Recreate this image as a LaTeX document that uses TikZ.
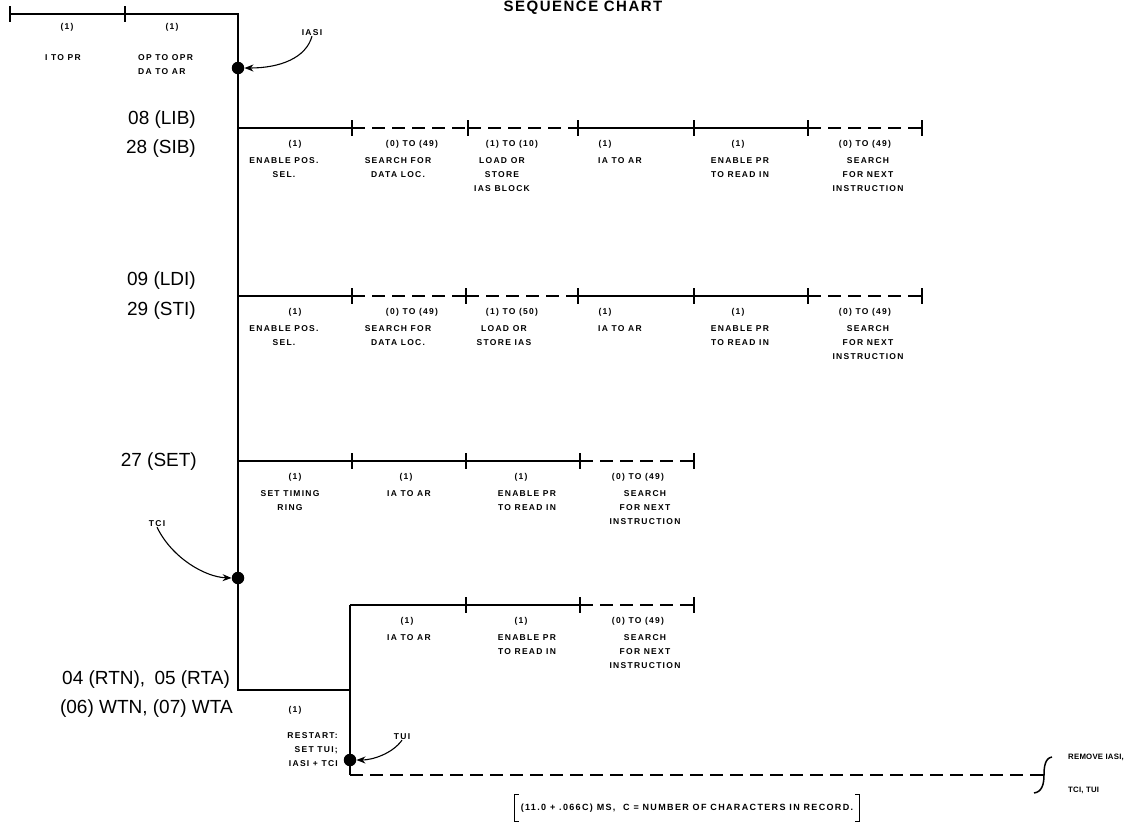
\documentclass[tikz,border=0pt]{standalone}
\usepackage{fontspec}
\setmainfont{Liberation Sans}
\newfontfamily\labfont{Liberation Sans}[LetterSpace=15]
\newfontfamily\remfont{Liberation Sans}[LetterSpace=3]
\newfontfamily\bigfont{Liberation Sans}
\newfontfamily\titlefont{Liberation Sans}[LetterSpace=10]
\usetikzlibrary{arrows.meta}
\begin{document}
\begin{tikzpicture}[x=1pt,y=-1pt,
  ln/.style={line width=1.5pt},
  dsh/.style={line width=1.5pt, dash pattern=on 13pt off 7pt},
  val/.style={font=\labfont\bfseries\fontsize{8.5}{9}\selectfont, inner sep=0pt},
  desc/.style={font=\labfont\bfseries\fontsize{8.5}{14}\selectfont, align=center, inner sep=0pt, anchor=north},
  rem/.style={font=\remfont\bfseries\fontsize{7.8}{8}\selectfont, inner sep=0pt},
  big/.style={font=\bigfont\fontsize{19}{20}\selectfont, inner sep=0pt},
  ttl/.style={font=\titlefont\bfseries\fontsize{15}{16}\selectfont, inner sep=0pt},
  dot/.style={circle, fill=black, inner sep=0pt, minimum size=12.5pt},
  arr/.style={line width=1.1pt, -{Stealth[length=9pt,width=7pt]}},
  tkpic/.pic={\draw[line width=1.5pt] (0,-8) -- (0,8);}
]
\useasboundingbox (0,0) rectangle (1128,831);

% title
\node[ttl] (title) at (583,8) {SEQUENCE CHART};

% ---------- top row ----------
\coordinate (t0) at (10,14);
\coordinate (t1) at (125,14);
\coordinate (t2) at (238,14);
\pic at (t0) {tkpic};
\pic at (t1) {tkpic};
\node[val] (tv0) at (67,27) {(1)};
\node[val] (tv1) at (172,27) {(1)};
\node[desc] (td0) at (63,54) {I TO PR};
\node[desc, align=left, anchor=north west] (td1) at (138,54) {OP TO OPR\\DA TO AR};

% main vertical and dots
\coordinate (m1) at (238,690);
\coordinate (b0) at (350,690);
\coordinate (d0) at (350,605);
\coordinate (bc) at (350,775);
\coordinate (be) at (1040,775);
\draw[ln] (t0) -- (t2) -- (m1) -- (b0);
\draw[ln] (d0) -- (bc);
\draw[dsh] (bc) -- (be);
\node[dot] (iasi) at (238,68) {};
\node[dot] (tci) at (238,578) {};
\node[dot] (tui) at (350,760) {};

% arrows
\node[val] (iasil) at (312,33) {IASI};
\draw[arr] (iasil.south) .. controls (306,58) and (280,68) .. (iasi.east);
\node[val] (tcil) at (157,524) {TCI};
\draw[arr] (tcil.south) .. controls (172,558) and (205,577) .. (tci.west);
\node[val] (tuil) at (402,737) {TUI};
\draw[arr] (tuil.south) .. controls (392,754) and (372,760) .. (tui.east);

% brace at end of dashed line
\coordinate (brm) at (1044,775);
\coordinate (brt) at (1052,757);
\coordinate (brb) at (1034,793);
\draw[ln] (be) -- (brm);
\draw[ln] (brt) .. controls (1045,758) and (1044,767) .. (brm) .. controls (1044,784) and (1042,792) .. (brb);
\node[rem, anchor=west] (rem1) at (1068,757) {REMOVE IASI,};
\node[rem, anchor=west] (rem2) at (1068,790) {TCI, TUI};

% left labels
\node[big, anchor=east] (l08) at (196,120) {08 (LIB)};
\node[big, anchor=east] (l28) at (196,149) {28 (SIB)};
\node[big, anchor=east] (l09) at (196,281) {09 (LDI)};
\node[big, anchor=east] (l29) at (196,311) {29 (STI)};
\node[big, anchor=east] (l27) at (197,462) {27 (SET)};
\node[big, anchor=west] (l04) at (62,680) {04 (RTN),\hspace{4pt} 05 (RTA)};
\node[big, anchor=east] (l06) at (233,709) {(06) WTN, (07) WTA};

% ---------- row 1 ----------
\foreach \n/\x in {0/238,1/352,2/468,3/578,4/694,5/808,6/922} \coordinate (a\n) at (\x,128);
\draw[ln] (a0) -- (a1);
\draw[dsh] (a1) -- (a2);
\draw[dsh] (a2) -- (a3);
\draw[ln] (a3) -- (a4) -- (a5);
\draw[dsh] (a5) -- (a6);
\foreach \n in {1,...,6} \pic at (a\n) {tkpic};
\node[val] (av0) at (295,144) {(1)};
\node[val] (av1) at (412,144) {(0) TO (49)};
\node[val] (av2) at (512,144) {(1) TO (10)};
\node[val] (av3) at (605,144) {(1)};
\node[val] (av4) at (738,144) {(1)};
\node[val] (av5) at (865,144) {(0) TO (49)};
\node[desc] (ad0) at (284,157) {ENABLE POS.\\SEL.};
\node[desc] (ad1) at (398,157) {SEARCH FOR\\DATA LOC.};
\node[desc] (ad2) at (502,157) {LOAD OR\\STORE\\IAS BLOCK};
\node[desc] (ad3) at (620,157) {IA TO AR};
\node[desc] (ad4) at (740,157) {ENABLE PR\\TO READ IN};
\node[desc] (ad5) at (868,157) {SEARCH\\FOR NEXT\\INSTRUCTION};

% ---------- row 2 ----------
\foreach \n/\x in {0/238,1/352,2/466,3/578,4/694,5/808,6/922} \coordinate (c\n) at (\x,296);
\draw[ln] (c0) -- (c1);
\draw[dsh] (c1) -- (c2);
\draw[dsh] (c2) -- (c3);
\draw[ln] (c3) -- (c4) -- (c5);
\draw[dsh] (c5) -- (c6);
\foreach \n in {1,...,6} \pic at (c\n) {tkpic};
\node[val] (cv0) at (295,312) {(1)};
\node[val] (cv1) at (412,312) {(0) TO (49)};
\node[val] (cv2) at (512,312) {(1) TO (50)};
\node[val] (cv3) at (605,312) {(1)};
\node[val] (cv4) at (738,312) {(1)};
\node[val] (cv5) at (865,312) {(0) TO (49)};
\node[desc] (cd0) at (284,325) {ENABLE POS.\\SEL.};
\node[desc] (cd1) at (398,325) {SEARCH FOR\\DATA LOC.};
\node[desc] (cd2) at (504,325) {LOAD OR\\STORE IAS};
\node[desc] (cd3) at (620,325) {IA TO AR};
\node[desc] (cd4) at (740,325) {ENABLE PR\\TO READ IN};
\node[desc] (cd5) at (868,325) {SEARCH\\FOR NEXT\\INSTRUCTION};

% ---------- row 3 ----------
\foreach \n/\x in {0/238,1/352,2/466,3/580,4/694} \coordinate (e\n) at (\x,461);
\draw[ln] (e0) -- (e1) -- (e2) -- (e3);
\draw[dsh] (e3) -- (e4);
\foreach \n in {1,...,4} \pic at (e\n) {tkpic};
\node[val] (ev0) at (295,477) {(1)};
\node[val] (ev1) at (406,477) {(1)};
\node[val] (ev2) at (521,477) {(1)};
\node[val] (ev3) at (638,477) {(0) TO (49)};
\node[desc] (ed0) at (290,490) {SET TIMING\\RING};
\node[desc] (ed1) at (409,490) {IA TO AR};
\node[desc] (ed2) at (527,490) {ENABLE PR\\TO READ IN};
\node[desc] (ed3) at (645,490) {SEARCH\\FOR NEXT\\INSTRUCTION};

% ---------- row 4 ----------
\foreach \n/\x in {1/466,2/580,3/694} \coordinate (g\n) at (\x,605);
\draw[ln] (d0) -- (g1) -- (g2);
\draw[dsh] (g2) -- (g3);
\foreach \n in {1,...,3} \pic at (g\n) {tkpic};
\node[val] (gv0) at (407,621) {(1)};
\node[val] (gv1) at (521,621) {(1)};
\node[val] (gv2) at (638,621) {(0) TO (49)};
\node[desc] (gd0) at (409,634) {IA TO AR};
\node[desc] (gd1) at (527,634) {ENABLE PR\\TO READ IN};
\node[desc] (gd2) at (645,634) {SEARCH\\FOR NEXT\\INSTRUCTION};

% bottom left block
\node[val] (bv) at (295,710) {(1)};
\node[desc, align=right, anchor=north east] (rst) at (338,732) {RESTART:\\SET TUI;\\IASI + TCI};

% bracket note
\node[val, font=\labfont\bfseries\fontsize{9}{10}\selectfont, inner xsep=6pt, inner ysep=9pt] (note) at (687,808)
  {(11.0 + .066C) MS, \ C = NUMBER OF CHARACTERS IN RECORD.};
\draw[line width=1.1pt] ([xshift=4pt]note.north west) -- (note.north west) -- (note.south west) -- ([xshift=4pt]note.south west);
\draw[line width=1.1pt] ([xshift=-4pt]note.north east) -- (note.north east) -- (note.south east) -- ([xshift=-4pt]note.south east);
\end{tikzpicture}
\end{document}
